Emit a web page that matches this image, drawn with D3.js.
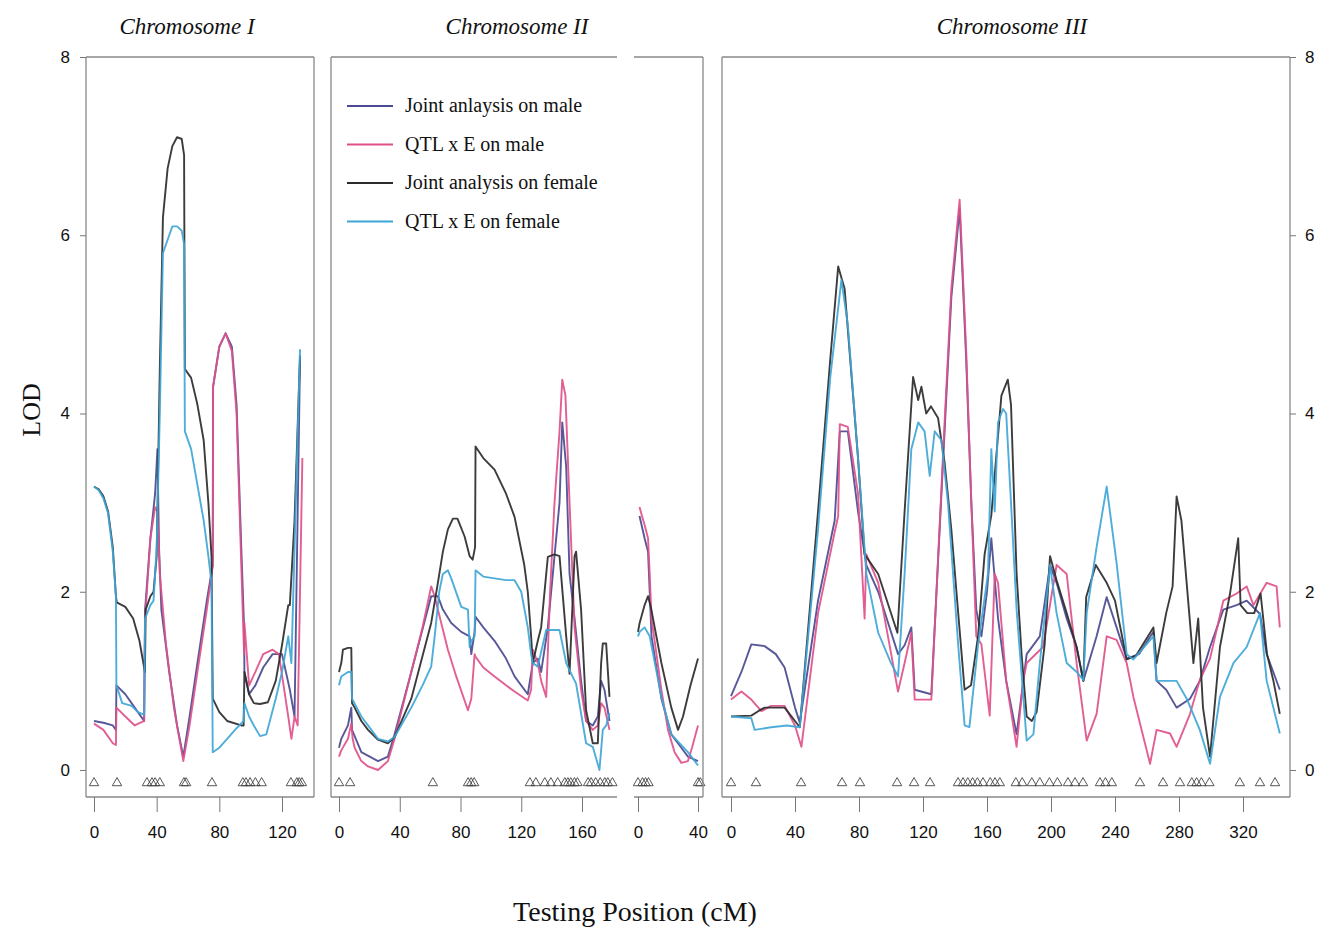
<!DOCTYPE html>
<html>
<head>
  <meta charset="utf-8">
  <title>LOD profiles</title>
  <style>
    body { margin: 0; background: #fff; }
    text { fill: #111; }
  </style>
</head>
<body>
  <svg width="1321" height="929" class="chart"></svg>

  <script src="https://d3js.org/d3.v7.min.js"></script>
  <script type="text/javascript">

  // ---- data: [position cM, LOD] ----
  var seriesNames = ["Joint anlaysis on male", "QTL x E on male", "Joint analysis on female", "QTL x E on female"];
  var seriesColors = ["#4a4a90", "#e0508a", "#2b2b2b", "#3fa6d6"];
  var yTicks = [0, 2, 4, 6, 8];

  // Chromosome I
  var chr1Ticks = [0, 40, 80, 120];
  var chr1Markers = [0, 14.7, 33.8, 37, 39, 42, 57.4, 58.8, 75.3, 95, 97, 99.6, 103, 107, 125.7, 129.5, 131, 132.7];
  var chr1JointMale = [[0,0.55],[6,0.53],[12,0.5],[14,0.45],[14.3,0.95],[20,0.85],[26,0.7],[32,0.55],[32.6,1.8],[36,2.6],[39,3.1],[40.5,3.6],[41.5,2.5],[43,1.8],[48,1.1],[53,0.5],[57,0.15],[61,0.6],[66,1.2],[72,1.9],[75.8,2.3],[76,4.3],[80,4.75],[84,4.9],[88,4.75],[91,4.1],[94,2.5],[95.8,1.6],[96,1.1],[99,0.85],[103,0.95],[108,1.15],[114,1.3],[120,1.3],[125,0.9],[128,0.6],[131.5,4.6]];
  var chr1QtlMale = [[0,0.52],[6,0.45],[12,0.3],[14,0.28],[14.3,0.7],[20,0.6],[26,0.5],[32,0.55],[32.6,1.7],[36,2.6],[39,2.95],[40.5,2.9],[42,2.2],[46,1.4],[51,0.7],[57,0.1],[61,0.5],[66,1.1],[72,1.8],[75.8,2.3],[76,4.3],[80,4.75],[84,4.9],[88,4.7],[91,4.0],[94,2.3],[95.8,1.3],[96,1.65],[99,0.95],[103,1.1],[108,1.3],[114,1.35],[118,1.3],[124,0.6],[126,0.35],[128,0.6],[130,0.5],[133,3.5]];
  var chr1JointFemale = [[0,3.18],[3,3.15],[6,3.07],[9,2.9],[12,2.5],[14,1.95],[14.5,1.88],[20,1.83],[25,1.7],[29,1.45],[32.5,1.1],[33,1.8],[36,1.95],[38,2.0],[40,2.4],[42,4.5],[44,6.2],[47,6.75],[50,7.0],[53,7.1],[56,7.08],[57.5,6.9],[58,4.5],[62,4.4],[66,4.1],[70,3.7],[73,3.0],[75,2.4],[75.8,0.8],[80,0.65],[85,0.55],[94,0.5],[95.5,0.5],[96,1.1],[99,0.85],[102,0.75],[106,0.74],[111,0.76],[116,1.0],[120,1.4],[124,1.85],[125,1.85],[128,2.8],[131.5,4.65]];
  var chr1QtlFemale = [[0,3.18],[3,3.14],[6,3.05],[9,2.88],[12,2.45],[14,1.95],[14.3,0.95],[18,0.75],[24,0.72],[28,0.65],[32,0.62],[32.6,1.7],[36,1.85],[38,1.9],[40,2.5],[42,4.0],[44,5.8],[47,5.95],[50,6.1],[53,6.1],[56,6.05],[57.5,5.9],[58,3.8],[62,3.6],[66,3.2],[70,2.8],[73,2.4],[75,2.1],[75.8,0.2],[80,0.25],[85,0.35],[90,0.45],[95.5,0.55],[96,0.75],[99,0.6],[102,0.5],[106,0.38],[110,0.4],[116,0.8],[120,1.1],[124,1.5],[126,1.2],[131.5,4.72]];

  // Chromosome II (first segment)
  var chr2Ticks = [0, 40, 80, 120, 160];
  var chr2Markers = [0, 7.3, 61.8, 85, 87, 89, 125.7, 129.6, 135.5, 139.5, 144, 148.7, 150.7, 152.6, 155, 157, 164, 166, 169, 172, 175, 177, 180];
  var chr2JointMale = [[0,0.25],[1.5,0.35],[5.9,0.5],[8.1,0.7],[8.6,0.45],[14.7,0.2],[25.7,0.1],[32.2,0.15],[36.6,0.4],[47.6,1.1],[60.7,1.95],[65.1,1.95],[68.4,1.8],[73.9,1.65],[80.5,1.55],[86,1.5],[87.1,1.3],[89.3,1.55],[89.9,1.72],[95,1.6],[102.4,1.45],[110,1.25],[115.6,1.05],[124.3,0.85],[127.6,1.2],[130.9,1.25],[133.1,1.1],[137.5,1.6],[141.9,2.4],[145.2,3.0],[147,3.9],[149.6,3.4],[151.8,2.2],[155.1,1.7],[159.4,1.0],[162.7,0.55],[167.1,0.5],[170.4,0.6],[172.6,1.0],[174.8,0.9],[178.1,0.55]];
  var chr2QtlMale = [[0,0.15],[1.5,0.22],[5.9,0.35],[8.1,0.52],[9,0.35],[10.3,0.25],[14.7,0.1],[19.1,0.04],[25.7,0.0],[32.2,0.1],[36.6,0.35],[47.6,1.1],[55,1.6],[60.7,2.06],[63,1.95],[65.1,1.8],[71.7,1.35],[77.2,1.05],[84.9,0.67],[87.1,0.8],[89.3,1.3],[89.9,1.27],[95,1.15],[102.4,1.05],[110,0.95],[115.6,0.88],[124.3,0.78],[126.5,0.9],[127.6,1.35],[130.9,1.2],[133.1,1.0],[136.4,0.82],[139,2.0],[141.9,3.0],[145.2,3.8],[147,4.38],[149.1,4.2],[151.8,3.0],[155.1,1.6],[159.4,0.9],[162.7,0.55],[167.1,0.45],[170.4,0.5],[172.6,0.75],[174.8,0.7],[178.1,0.45]];
  var chr2JointFemale = [[0,1.1],[1.5,1.2],[2.6,1.35],[5.9,1.37],[8.1,1.37],[8.6,0.75],[10.3,0.7],[14.7,0.55],[19.1,0.45],[25.7,0.34],[32.2,0.3],[36.6,0.37],[47.6,0.8],[60.7,1.65],[65.1,2.1],[68.4,2.45],[71.7,2.7],[75,2.82],[78,2.82],[82.7,2.62],[86,2.4],[88,2.36],[89.6,2.5],[89.9,3.63],[95,3.5],[102.4,3.37],[110,3.1],[115.6,2.84],[122,2.3],[124.3,2.0],[126.5,1.5],[127.6,1.2],[130.9,1.45],[133.1,1.6],[137.5,2.39],[141.9,2.42],[145.2,2.4],[149.6,1.5],[151.8,1.08],[155.1,2.4],[156.1,2.45],[159.4,1.8],[162.7,0.67],[167.1,0.3],[170.4,0.3],[172.6,1.2],[173.7,1.42],[175.9,1.42],[178.1,0.82]];
  var chr2QtlFemale = [[0,0.95],[1.5,1.05],[5.9,1.1],[8.1,1.1],[8.6,0.8],[14.7,0.6],[19.1,0.5],[25.7,0.35],[32.2,0.32],[36.6,0.37],[47.6,0.7],[55,0.95],[60.7,1.16],[63,1.5],[66,2.0],[68.4,2.2],[71.7,2.24],[73.9,2.15],[80.5,1.83],[84.9,1.8],[86,1.38],[87.1,1.45],[89.3,1.5],[89.9,2.24],[95,2.17],[102.4,2.15],[110,2.13],[115.6,2.13],[120,2.0],[124.3,1.6],[126.5,1.3],[127.6,1.2],[130.9,1.16],[136.4,1.57],[141.9,1.57],[145.2,1.57],[149.6,1.2],[152.9,1.08],[156.1,0.97],[162.7,0.3],[167.1,0.26],[171.5,0.0],[173.7,0.45],[175.9,0.5],[178.1,0.64]];

  // Chromosome II (second segment)
  var chr2bTicks = [0, 40];
  var chr2bMarkers = [0, 3, 5, 7, 40, 41.5];
  var chr2bJointMale = [[1,2.85],[4.4,2.6],[6.7,2.45],[7.8,2.0],[9,1.5],[15.6,0.8],[22.2,0.4],[28.9,0.25],[33.3,0.15],[40,0.1]];
  var chr2bQtlMale = [[1,2.95],[4.4,2.75],[6.7,2.6],[7.8,2.2],[9,1.7],[15.6,0.9],[20,0.45],[24.4,0.2],[28.9,0.08],[33.3,0.1],[36,0.25],[40,0.5]];
  var chr2bJointFemale = [[0,1.55],[1.1,1.65],[4.4,1.85],[6.7,1.95],[8.9,1.8],[15.6,1.2],[22.2,0.7],[26.7,0.45],[30,0.6],[35,0.95],[40,1.25]];
  var chr2bQtlFemale = [[0,1.5],[1.1,1.55],[4.4,1.6],[7.8,1.5],[15.6,0.82],[22.2,0.4],[28.9,0.28],[33.3,0.2],[40,0.05]];

  // Chromosome III
  var chr3Ticks = [0, 40, 80, 120, 160, 200, 240, 280, 320];
  var chr3Markers = [0, 15.6, 43.8, 69.4, 80.6, 103.8, 114.4, 124.4, 141.9, 145, 148, 151, 154, 157.5, 162, 165, 168, 178, 182, 188, 193, 199, 204, 210.6, 215, 220, 230.6, 234, 238, 255.6, 270, 280.6, 288, 291, 294, 299, 318, 330.6, 340];
  var chr3JointMale = [[0,0.83],[6.5,1.1],[12.7,1.41],[21,1.39],[28,1.3],[33.5,1.15],[40,0.7],[43,0.53],[54.4,1.9],[64.8,2.8],[68,3.8],[73,3.8],[79.4,2.9],[84.6,2.3],[92,2.0],[104.4,1.3],[108.5,1.4],[112.7,1.6],[114.8,0.9],[125.2,0.85],[133.5,3.8],[137.7,5.3],[142.9,6.3],[147,4.6],[150.2,3.0],[153.3,1.8],[156.5,1.5],[160,2.0],[162.7,2.6],[166.9,1.7],[172,1.0],[178.5,0.4],[184.8,1.3],[193,1.5],[199.4,2.3],[203.5,2.1],[209.8,1.7],[216,1.38],[220.2,1.0],[228.5,1.5],[234.8,1.94],[241,1.6],[247.3,1.25],[255,1.3],[264,1.55],[266,1.0],[272,0.9],[278.5,0.7],[286.9,0.8],[293,1.0],[299.4,1.38],[307.7,1.8],[316,1.85],[322.3,1.9],[330.6,1.75],[334.8,1.3],[343,0.9]];
  var chr3QtlMale = [[0,0.79],[6.5,0.88],[12.7,0.79],[19,0.66],[25,0.72],[33.5,0.72],[40,0.5],[44,0.26],[54.4,1.76],[64.8,2.67],[67,2.85],[68,3.88],[73,3.85],[79.4,3.1],[83.5,1.7],[84.6,2.42],[92,2.1],[104.4,0.88],[108.5,1.2],[112.7,1.54],[114.8,0.79],[125.2,0.79],[133.5,3.9],[137.7,5.4],[142.9,6.4],[147,4.7],[150.2,3.0],[153.3,1.5],[156.5,1.41],[161.7,0.61],[164.8,2.2],[166.9,2.1],[172,1.0],[178.5,0.26],[182.6,1.0],[184.8,1.2],[195,1.38],[203.5,2.3],[209.8,2.2],[216,1.2],[222.3,0.33],[228.5,0.63],[234.8,1.5],[241,1.46],[247.3,1.2],[251.5,0.82],[261.9,0.07],[266,0.45],[274.4,0.41],[278.5,0.26],[286.9,0.63],[293,1.01],[299.4,1.25],[307.7,1.9],[316,1.98],[322.3,2.06],[326.5,1.85],[334.8,2.1],[341,2.06],[343,1.6]];
  var chr3JointFemale = [[0,0.6],[12.7,0.61],[17,0.66],[21,0.7],[33.5,0.7],[40,0.55],[43,0.48],[54.4,2.9],[62,4.6],[67,5.65],[71,5.4],[79.4,3.5],[83.5,2.42],[92,2.2],[104,1.54],[108.5,2.9],[113.8,4.41],[117,4.15],[119,4.3],[122,4.0],[125,4.08],[129.4,3.95],[133.5,3.45],[137.7,2.7],[142,1.76],[146,0.9],[150,0.95],[154.4,1.5],[158.5,2.42],[162.7,2.86],[169,4.2],[173,4.38],[175,4.1],[178.5,2.2],[181.6,1.3],[184.8,0.6],[188,0.55],[191,0.65],[196,1.4],[199.4,2.4],[203.5,2.13],[209.8,1.76],[216,1.38],[220.2,1.0],[222,1.94],[228,2.3],[234.8,2.1],[240,1.9],[247.3,1.24],[253,1.28],[264,1.6],[266,1.2],[272,1.76],[276,2.06],[278.5,3.07],[281.5,2.8],[289,1.2],[292,1.7],[295,0.7],[299.4,0.15],[305.6,1.38],[311.9,1.98],[317,2.6],[318.5,1.85],[322.7,1.76],[327,1.76],[331,1.98],[335,1.3],[339,1.0],[343,0.63]];
  var chr3QtlFemale = [[0,0.6],[12.7,0.58],[14.8,0.45],[25,0.48],[35,0.5],[43,0.48],[54.4,2.7],[62,4.4],[69,5.5],[73,5.0],[79.4,3.5],[84.6,2.2],[92,1.54],[100,1.2],[104.4,1.05],[108.5,2.2],[112.7,3.6],[117,3.9],[121,3.8],[124.2,3.3],[127.3,3.8],[131.5,3.7],[135.6,3.0],[142,1.4],[146,0.5],[149,0.48],[154.4,1.4],[160.6,2.2],[162.7,3.6],[164.8,2.9],[166.9,3.9],[170,4.05],[172,4.0],[175,3.0],[178.5,1.8],[184.8,0.33],[189,0.4],[193,1.2],[199.4,2.3],[203.5,1.76],[209.8,1.2],[216,1.1],[220.2,1.01],[222.3,1.76],[228.5,2.5],[234.8,3.18],[241,2.32],[247.3,1.3],[251.5,1.24],[264,1.5],[266,1.0],[278.5,1.0],[284.8,0.8],[293,0.45],[299.4,0.07],[305.6,0.82],[314,1.2],[322.3,1.38],[330.6,1.76],[334.8,1.0],[343,0.41]];

  // ---- layout ----
  var svg = d3.select(".chart");
  var yTop = 57, yBot = 797;
  var y = d3.scaleLinear().domain([0, 8]).range([770, 57]);
  var serif = "Liberation Serif, Times New Roman, serif";
  var sans = "Liberation Sans, Arial, sans-serif";

  var panels = [
    { box: [86, 314], px: [94, 282], dom: [0, 120], ticks: chr1Ticks, markers: chr1Markers,
      series: [chr1JointMale, chr1QtlMale, chr1JointFemale, chr1QtlFemale], sides: "lrtb" },
    { box: [331, 617], px: [339, 582], dom: [0, 160], ticks: chr2Ticks, markers: chr2Markers,
      series: [chr2JointMale, chr2QtlMale, chr2JointFemale, chr2QtlFemale], sides: "ltb" },
    { box: [634, 703], px: [638, 698], dom: [0, 40], ticks: chr2bTicks, markers: chr2bMarkers,
      series: [chr2bJointMale, chr2bQtlMale, chr2bJointFemale, chr2bQtlFemale], sides: "rtb" },
    { box: [722, 1290], px: [731, 1243], dom: [0, 320], ticks: chr3Ticks, markers: chr3Markers,
      series: [chr3JointMale, chr3QtlMale, chr3JointFemale, chr3QtlFemale], sides: "lrtb" }
  ];

  panels.forEach(function(p, i) {
    var x = d3.scaleLinear().domain(p.dom).range(p.px);
    var g = svg.append("g");

    g.append("clipPath").attr("id", "clip" + i)
      .append("rect").attr("x", p.box[0]).attr("y", yTop)
      .attr("width", p.box[1] - p.box[0]).attr("height", yBot - yTop);

    // lines
    var line = d3.line().x(function(d) { return x(d[0]); }).y(function(d) { return y(d[1]); });
    g.append("g").attr("clip-path", "url(#clip" + i + ")")
      .selectAll("path")
      .data(p.series)
      .enter().append("path")
      .attr("d", line)
      .attr("fill", "none")
      .attr("stroke", function(d, k) { return seriesColors[k]; })
      .attr("stroke-width", 1.9)
      .attr("stroke-linejoin", "round")
      .attr("opacity", 0.92);

    // marker triangles
    g.selectAll(".mk")
      .data(p.markers)
      .enter().append("path")
      .attr("class", "mk")
      .attr("d", d3.symbol().type(d3.symbolTriangle).size(38))
      .attr("transform", function(d) { return "translate(" + x(d) + ",783)"; })
      .attr("fill", "none")
      .attr("stroke", "#444")
      .attr("stroke-width", 0.9);

    // box edges
    if (p.sides.indexOf("t") >= 0) g.append("line").attr("x1", p.box[0]).attr("x2", p.box[1]).attr("y1", yTop).attr("y2", yTop);
    if (p.sides.indexOf("b") >= 0) g.append("line").attr("x1", p.box[0]).attr("x2", p.box[1]).attr("y1", yBot).attr("y2", yBot);
    if (p.sides.indexOf("l") >= 0) g.append("line").attr("x1", p.box[0]).attr("x2", p.box[0]).attr("y1", yTop).attr("y2", yBot);
    if (p.sides.indexOf("r") >= 0) g.append("line").attr("x1", p.box[1]).attr("x2", p.box[1]).attr("y1", yTop).attr("y2", yBot);
    g.selectAll("line").attr("stroke", "#888").attr("stroke-width", 1.3);

    // x axis
    var xAxis = d3.axisBottom(x).tickValues(p.ticks).tickSize(15).tickPadding(14);
    var ax = g.append("g").attr("transform", "translate(0," + yBot + ")").call(xAxis);
    ax.select(".domain").remove();
    ax.selectAll(".tick line").attr("stroke", "#666");
    ax.selectAll("text").attr("font-family", sans).attr("font-size", 17).attr("fill", "#111");
  });

  // y axes
  var yl = svg.append("g").attr("transform", "translate(86,0)")
    .call(d3.axisLeft(y).tickValues(yTicks).tickSize(6).tickPadding(10));
  yl.select(".domain").remove();
  var yr = svg.append("g").attr("transform", "translate(1290,0)")
    .call(d3.axisRight(y).tickValues(yTicks).tickSize(6).tickPadding(9));
  yr.select(".domain").remove();
  svg.selectAll(".tick line").attr("stroke", "#777");
  [yl, yr].forEach(function(a) {
    a.selectAll("text").attr("font-family", sans).attr("font-size", 17).attr("fill", "#111");
  });

  // titles
  var titles = [["Chromosome I", 187], ["Chromosome II", 517], ["Chromosome III", 1012]];
  svg.selectAll(".ttl")
    .data(titles)
    .enter().append("text")
    .attr("x", function(d) { return d[1]; })
    .attr("y", 34)
    .attr("text-anchor", "middle")
    .attr("font-family", serif)
    .attr("font-style", "italic")
    .attr("font-size", 23)
    .text(function(d) { return d[0]; });

  svg.append("text")
    .attr("transform", "translate(40,410) rotate(-90)")
    .attr("text-anchor", "middle")
    .attr("font-family", serif)
    .attr("font-size", 26)
    .text("LOD");

  svg.append("text")
    .attr("x", 635).attr("y", 921)
    .attr("text-anchor", "middle")
    .attr("font-family", serif)
    .attr("font-size", 28)
    .text("Testing Position (cM)");

  // legend
  var leg = svg.append("g").selectAll("g")
    .data(seriesNames)
    .enter().append("g")
    .attr("transform", function(d, i) { return "translate(347," + (106 + i * 38.5) + ")"; });
  leg.append("line").attr("x1", 0).attr("x2", 46).attr("y1", 0).attr("y2", 0)
    .attr("stroke", function(d, i) { return seriesColors[i]; })
    .attr("stroke-width", 2);
  leg.append("text").attr("x", 58).attr("y", 6)
    .attr("font-family", serif)
    .attr("font-size", 20)
    .text(function(d) { return d; });

  </script>
</body>
</html>
